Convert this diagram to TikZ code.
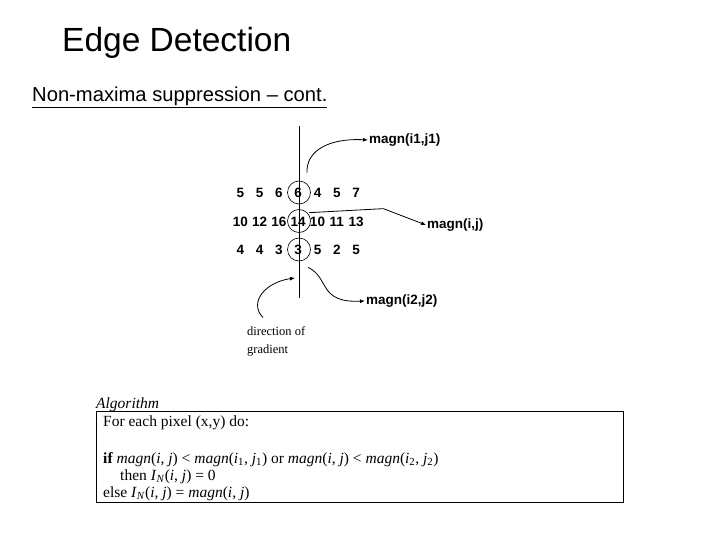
\documentclass[tikz,border=0pt]{standalone}
\usepackage{fontspec}
\setmainfont{Liberation Serif}
\newfontfamily\arial{Liberation Sans}
\usetikzlibrary{arrows.meta}
\newcommand\magn{\textit{magn}}
\newcommand\pixij{(\textit{i}, \textit{j})}

\begin{document}
\begin{tikzpicture}[x=1pt,y=-1pt,
  num/.style={font=\arial\bfseries\fontsize{13.5}{13.5}\selectfont, inner sep=0pt, anchor=base},
  lbl/.style={font=\arial\bfseries\fontsize{13.5}{13.5}\selectfont, inner sep=1pt, anchor=west},
  ring/.style={draw, line width=0.6pt, circle, minimum size=23pt, inner sep=0pt},
  pointer/.style={-{Latex[length=5pt,width=4pt]}, line width=0.8pt}]
\useasboundingbox (0,0) rectangle (720,540);
% headings
\node[anchor=base west, inner sep=0pt, font=\arial\fontsize{33.5}{33.5}\selectfont] (title) at (62,52) {Edge Detection};
\node[anchor=base west, inner sep=0pt, font=\arial\fontsize{20.2}{20.2}\selectfont] (sub) at (32,102) {\underline{Non-maxima suppression – cont.}};
% gradient line and magnitudes
\coordinate (top) at (299,126);
\coordinate (bot) at (299,298);
\draw[line width=0.8pt] (top) -- (bot);
\foreach \row [count=\r] in {{5,5,6,6,4,5,7},{10,12,16,14,10,11,13},{4,4,3,3,5,2,5}} {
  \foreach \v [count=\c] in \row
    \node[num] (n\r\c) at ({221+19.3*\c},{169+28.5*\r}) {\v};
}
\node[ring] (c1) at (299,192.5) {};
\node[ring] (c2) at (299,221) {};
\node[ring] (c3) at (299,249.5) {};
% labels
\node[lbl] (m1) at (368,140) {magn(i1,j1)};
\node[lbl] (m0) at (426,225) {magn(i,j)};
\node[lbl] (m2) at (365,301) {magn(i2,j2)};
\draw[pointer] ([xshift=8pt,yshift=8pt]c1.north) .. controls (306,150) and (330,138) .. (m1.west);
\draw[pointer] ([xshift=2pt]c2.north east) -- ++(74,-4) -- (m0.west);
\draw[pointer] ([xshift=9pt,yshift=-6pt]c3.south) .. controls (330,278) and (318,303) .. (m2.west);
% direction of gradient
\node[anchor=north west, align=left, inner sep=0pt, font=\fontsize{12.5}{18}\selectfont] (dir) at (247,326.5) {direction of\\gradient};
\draw[pointer] ([xshift=16pt,yshift=9pt]dir.north west) .. controls (248,302) and (266,282) .. ([xshift=-4pt,yshift=20pt]bot);
% algorithm
\node[anchor=base west, inner sep=0pt, font=\itshape\fontsize{15.5}{15.5}\selectfont] (algname) at (96,408) {Algorithm};
\node[draw, line width=0.9pt, anchor=north west, minimum width=527pt, minimum height=91pt, inner sep=0pt] (algbox) at (96,411) {};
\node[anchor=north west, align=left, inner sep=0pt, font=\fontsize{15.5}{17}\selectfont] (algtext) at (103,415.3)
  {For each pixel (x,y) do:\\[20pt]
   \textbf{if} \magn\pixij{} < \magn(\textit{i}\textsubscript{1}, \textit{j}\textsubscript{1}) or \magn\pixij{} < \magn(\textit{i}\textsubscript{2}, \textit{j}\textsubscript{2})\\
   \hspace*{17pt}then \textit{I}\textsubscript{\textit{N}}\pixij{} = 0\\
   else \textit{I}\textsubscript{\textit{N}}\pixij{} = \magn\pixij};
\end{tikzpicture}
\end{document}
